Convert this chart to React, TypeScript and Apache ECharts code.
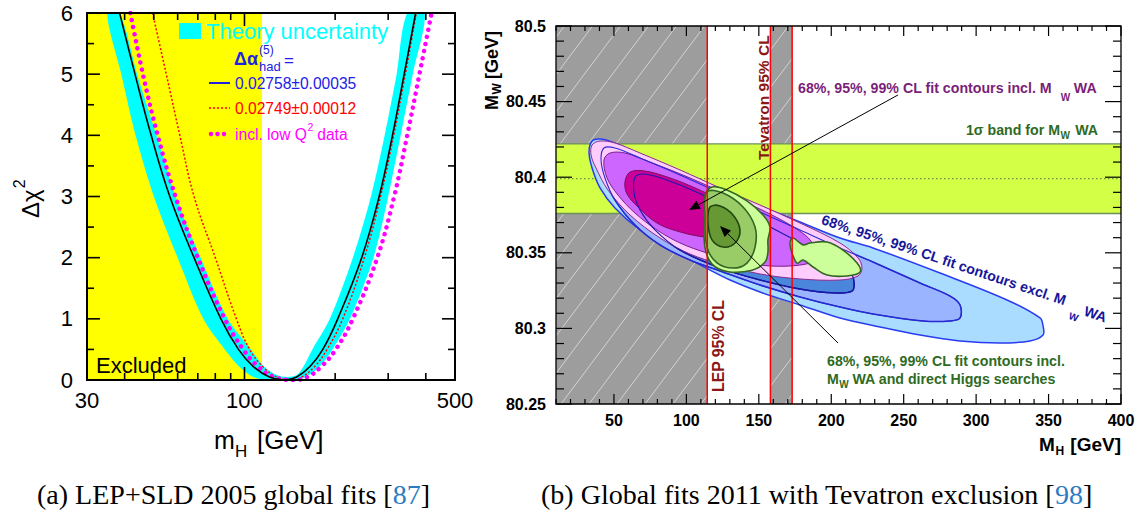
import React, { useEffect, useRef } from "react";
import * as echarts from "echarts";

const SANS = '"Liberation Sans", Arial, Helvetica, sans-serif';
const SERIF = '"Liberation Serif", "Times New Roman", serif';

// ---------------- panel (a): LEP+SLD 2005 ----------------
const axisA = { xMin: 30, xMax: 500, yMin: 0, yMax: 6 };
const excludedMaxA = 114.4;
// [mH, delta chi2]
const fitCentral = [
  [38.5, 6], [43.3, 5], [49, 4], [56.5, 3], [68, 2], [83.5, 1], [95.5, 0.5], [107, 0.22], [121, 0.05],
  [136, 0], [149, 0.05], [165, 0.22], [182, 0.5], [204, 1], [245, 2], [280, 3], [310, 4], [339, 5], [370, 6],
];
const fitRed = [
  [49.5, 6], [55, 5], [61, 4], [68, 3], [80, 2], [94, 1], [104, 0.5], [116, 0.2], [128, 0.05],
  [142, 0], [155, 0.05], [171, 0.22], [188, 0.5], [212, 1], [250, 2], [283, 3], [313, 4], [342, 5], [372, 6],
];
const fitLowQ2 = [
  [41.8, 6], [46, 5], [51.5, 4], [59, 3], [70, 2], [86, 1], [99, 0.5], [111, 0.22], [125, 0.05],
  [147, 0], [162, 0.05], [180, 0.22], [201, 0.5], [229, 1], [276, 2], [314, 3], [347, 4], [381, 5], [418, 6],
];
const bandLower = [
  [35, 6], [39, 5], [43.5, 4], [50, 3], [60, 2], [73, 1], [86, 0.5], [97, 0.2], [108, 0.04], [120, 0],
  [146, 0], [158, 0.04], [176, 0.2], [196, 0.5], [224, 1], [268, 2], [300, 3], [330, 4], [362, 5], [397, 6],
];
const bandUpper = [
  [38.5, 6], [44, 5], [51, 4], [59, 3], [71.5, 2], [88, 1], [105, 0.5], [116, 0.22], [128, 0.08], [138, 0.05],
  [149, 0.08], [157, 0.22], [168, 0.5], [192, 1], [229, 2], [263, 3], [292, 4], [320, 5], [347, 6],
];
const xLabelsA = [30, 100, 500];
const xMajorA = [100];
const xMinorA = [40, 50, 60, 70, 80, 90, 200, 300, 400];

// ---------------- panel (b): Global fits 2011 ----------------
const axisB = { xMin: 10, xMax: 400, yMin: 80.25, yMax: 80.5 };
const lepLimit = 114.4;
const tevatronExcl = [158, 173];
const mwWA = 80.399;
const mwWAErr = 0.023;
// [MH, MW] contour outlines
const blue99 = [
  [34.9, 80.4239], [40.4, 80.4253], [48.7, 80.4233], [61.1, 80.418], [81.8, 80.4094], [102.5, 80.4008],
  [116.3, 80.3948], [137.0, 80.3862], [157.7, 80.3783], [178.4, 80.3704], [206.0, 80.3598], [228.8, 80.3532],
  [275.1, 80.3366], [321.3, 80.3188], [344.1, 80.3069], [346.2, 80.3016], [346.2, 80.2956], [337.2, 80.2917],
  [316.5, 80.2903], [288.9, 80.2917], [261.3, 80.2956], [233.7, 80.3009], [206.0, 80.3069], [178.4, 80.3155],
  [150.8, 80.3241], [130.1, 80.332], [113.5, 80.34], [90.8, 80.3518], [68.0, 80.3651], [50.7, 80.3796],
  [40.4, 80.3929], [34.9, 80.4061], [32.8, 80.4167],
];
const blue95 = [
  [43.1, 80.4193], [50.7, 80.4193], [68.0, 80.4127], [95.6, 80.4015], [123.2, 80.3895], [150.8, 80.377],
  [178.4, 80.3651], [206.0, 80.3532], [228.8, 80.3439], [261.3, 80.33], [282.0, 80.3214], [288.9, 80.3155],
  [288.9, 80.3069], [282.0, 80.3049], [263.3, 80.3049], [228.8, 80.3095], [206.0, 80.3141], [178.4, 80.3208],
  [150.8, 80.3287], [123.2, 80.338], [102.5, 80.3452], [81.8, 80.3552], [64.5, 80.3684], [50.7, 80.3849],
  [43.8, 80.3995], [41.1, 80.4114],
];
const blue68 = [
  [65.2, 80.4008], [74.9, 80.4015], [95.6, 80.3948], [123.2, 80.3829], [150.8, 80.3704], [178.4, 80.3565],
  [199.1, 80.3452], [212.9, 80.3373], [215.7, 80.3307], [214.3, 80.3247], [202.6, 80.3234], [178.4, 80.326],
  [150.8, 80.332], [123.2, 80.34], [95.6, 80.3518], [78.3, 80.3651], [68.0, 80.3783], [63.8, 80.3902],
];
const purple99 = [
  [34.9, 80.4213], [40.4, 80.4239], [50.7, 80.4226], [68.0, 80.416], [95.6, 80.4048], [123.2, 80.3929],
  [150.8, 80.3816], [178.4, 80.3697], [206.0, 80.3565], [218.5, 80.3466], [221.2, 80.3399], [218.5, 80.3347],
  [206.0, 80.332], [178.4, 80.3327], [150.8, 80.336], [123.2, 80.3426], [102.5, 80.3492], [81.8, 80.3598],
  [61.1, 80.375], [45.9, 80.3915], [37.6, 80.4061], [34.2, 80.4147],
];
const purple95 = [
  [43.1, 80.4114], [47.3, 80.416], [57.6, 80.416], [74.9, 80.41], [102.5, 80.3995], [130.1, 80.3876],
  [157.7, 80.3757], [181.9, 80.3618], [189.5, 80.3518], [188.8, 80.3452], [178.4, 80.3419], [157.7, 80.3413],
  [137.0, 80.3439], [114.2, 80.3499], [95.6, 80.3565], [79.7, 80.3651], [64.5, 80.3763], [52.8, 80.3882],
  [45.2, 80.3995],
];
const purple68 = [
  [57.6, 80.3968], [61.1, 80.4034], [71.4, 80.4041], [88.7, 80.3995], [106.0, 80.3929], [123.2, 80.3849],
  [137.0, 80.3763], [142.5, 80.3684], [141.2, 80.3624], [130.1, 80.3598], [112.9, 80.3604], [95.6, 80.3638],
  [79.7, 80.3697], [66.6, 80.3803], [59.0, 80.3889],
];
const green99Main = [
  [112.9, 80.3882], [117.7, 80.3935], [128.0, 80.3915], [141.8, 80.3843], [152.9, 80.375], [157.7, 80.3671],
  [156.3, 80.3585], [156.3, 80.3505], [154.3, 80.3439], [145.3, 80.3385], [128.7, 80.3375], [117.7, 80.3425],
  [112.9, 80.3532], [112.2, 80.3717],
];
const green99Side = [
  [171.5, 80.3565], [173.6, 80.3598], [180.5, 80.3552], [185.3, 80.3565], [197.1, 80.3571], [208.1, 80.3518],
  [217.8, 80.3432], [219.9, 80.3373], [210.9, 80.3347], [197.1, 80.3353], [187.4, 80.3406], [180.5, 80.3452],
  [176.4, 80.3432], [172.9, 80.3499],
];
const green95 = [
  [114.2, 80.3902], [125.3, 80.3895], [139.1, 80.3803], [147.4, 80.3671], [147.4, 80.3538], [141.8, 80.3432],
  [132.2, 80.3399], [121.1, 80.3433], [114.2, 80.3538], [112.9, 80.3737],
];
const green68 = [
  [116.3, 80.3803], [123.2, 80.381], [132.2, 80.375], [137.0, 80.3651], [133.6, 80.3565], [125.3, 80.3538],
  [117.7, 80.3585], [114.9, 80.3697],
];
const arrowInclMW = [[246.1, 80.4544], [101.8, 80.3783]];
const arrowInclHiggs = [[204.7, 80.2903], [123.2, 80.3677]];

// ---------------- helpers ----------------
let mctx: CanvasRenderingContext2D | null = null;
function tw(text: string, size: number, bold = false, family = SANS) {
  if (!mctx) mctx = document.createElement("canvas").getContext("2d");
  if (!mctx) return text.length * size * 0.55;
  mctx.font = `${bold ? "bold " : ""}${size}px ${family}`;
  return mctx.measureText(text).width;
}
function T(text: string, x: number, y: number, size: number, fill: string, o: any = {}) {
  return {
    type: "text", x, y, rotation: o.rot || 0, z: 100,
    style: {
      text, fill, fontSize: size, fontFamily: o.family || SANS, fontWeight: o.bold ? "bold" : "normal",
      align: o.align || "left", verticalAlign: o.va || "middle", ...(o.rich ? { rich: o.rich } : {}),
    },
  };
}
function ln(x1: number, y1: number, x2: number, y2: number, stroke: string, lw: number, dash?: number[]) {
  return { type: "line", shape: { x1, y1, x2, y2 }, style: { stroke, lineWidth: lw, ...(dash ? { lineDash: dash } : {}) } };
}
function arrowEls(api: any, pts: number[][]) {
  const a = api.coord(pts[0]);
  const b = api.coord(pts[1]);
  const dx = b[0] - a[0], dy = b[1] - a[1];
  const L = Math.hypot(dx, dy);
  const ux = dx / L, uy = dy / L;
  const hl = 11, hw = 4.5;
  const bx = b[0] - ux * hl, by = b[1] - uy * hl;
  return [
    ln(a[0], a[1], bx, by, "#000", 1),
    { type: "polygon", shape: { points: [[b[0], b[1]], [bx - uy * hw, by + ux * hw], [bx + uy * hw, by - ux * hw]] }, style: { fill: "#000" } },
  ];
}

function buildOption() {
  const BLUE = "#2121e6";
  const PURPLE = "#7a1f7a";
  const DGREEN = "#2f6b1f";
  const DBLUE = "#16169a";
  const DRED = "#8c1515";

  // ---------- graphic texts ----------
  const g: any[] = [];
  // panel (a) legend
  g.push({ type: "rect", z: 100, shape: { x: 179, y: 23, width: 22, height: 16 }, style: { fill: "#00ffff" } });
  g.push(T("Theory uncertainty", 206, 31, 22, "#00ffff"));
  g.push(T("\u0394\u03b1", 234, 59, 18, BLUE, { bold: true }));
  const wda = tw("\u0394\u03b1", 18, true);
  g.push(T("(5)", 234 + wda + 1, 50, 12, BLUE));
  g.push(T("had", 234 + wda + 1, 66, 13, BLUE));
  g.push(T("=", 284, 60, 17, BLUE));
  g.push({ type: "line", z: 100, shape: { x1: 209, y1: 83, x2: 230, y2: 83 }, style: { stroke: BLUE, lineWidth: 2 } });
  g.push(T("0.02758\u00b10.00035", 235, 83, 15.6, BLUE));
  g.push({ type: "line", z: 100, shape: { x1: 209, y1: 108, x2: 230, y2: 108 }, style: { stroke: "#ff0000", lineWidth: 1.5, lineDash: [2, 2] } });
  g.push(T("0.02749\u00b10.00012", 235, 108.5, 15.6, "#ff0000"));
  [211, 217.5, 224].forEach((cx) => g.push({ type: "circle", z: 100, shape: { cx, cy: 134, r: 2.2 }, style: { fill: "#ff00ff" } }));
  const q1 = "incl. low Q";
  const wq = tw(q1, 15.6);
  g.push(T(q1, 235, 134, 15.6, "#ff00ff"));
  g.push(T("2", 235 + wq + 0.5, 127, 10.5, "#ff00ff"));
  g.push(T(" data", 235 + wq + 6, 134, 15.6, "#ff00ff"));
  g.push(T("Excluded", 96, 365, 22, "#000"));
  // panel (a) axis titles
  g.push(T("m", 214, 440, 25, "#000"));
  g.push(T("H", 235, 451, 17, "#000"));
  g.push(T("[GeV]", 257, 440, 26, "#000"));
  const wdc = tw("\u0394\u03c7", 24);
  g.push({
    type: "group", x: 30, y: 218, rotation: Math.PI / 2, z: 100,
    children: [T("\u0394\u03c7", 0, 0, 24, "#000"), T("2", wdc + 1, -11, 16, "#000")],
  });

  // panel (b) texts
  const fs = 14.2;
  const p1 = "68%, 95%, 99% CL fit contours incl. M";
  const wp1 = tw(p1, fs, true);
  g.push(T(p1, 798, 88, fs, PURPLE, { bold: true }));
  g.push(T("W", 798 + wp1 + 9, 97, 10, PURPLE, { bold: true }));
  g.push(T("WA", 798 + wp1 + 22, 88, fs, PURPLE, { bold: true }));

  g.push(T("WA", 1098, 130, fs, DGREEN, { bold: true, align: "right" }));
  g.push(T("W", 1070, 135, 10, DGREEN, { bold: true, align: "right" }));
  g.push(T("1\u03c3 band for M", 1060, 130, fs, DGREEN, { bold: true, align: "right" }));

  g.push(T("68%, 95%, 99% CL fit contours incl.", 827, 361, fs, DGREEN, { bold: true }));
  const wm = tw("M", fs, true);
  g.push(T("M", 827, 379, fs, DGREEN, { bold: true }));
  g.push(T("W", 827 + wm + 0.5, 384, 10, DGREEN, { bold: true }));
  g.push(T("WA and direct Higgs searches", 852.5, 379, fs, DGREEN, { bold: true }));

  const b1 = "68%, 95%, 99% CL fit contours excl. M";
  const wb1 = tw(b1, fs, true);
  g.push({
    type: "group", x: 822, y: 219, rotation: (-18.5 * Math.PI) / 180, z: 100,
    children: [
      T(b1, 0, 0, fs, DBLUE, { bold: true }),
      T("W", wb1 + 8, 13, 10, DBLUE, { bold: true }),
      T("WA", wb1 + 21, 3.5, fs, DBLUE, { bold: true }),
    ],
  });
  g.push(T("LEP 95% CL", 718, 392, 15.8, DRED, { bold: true, rot: Math.PI / 2 }));
  g.push(T("Tevatron 95% CL", 763, 160, 15.5, DRED, { bold: true, rot: Math.PI / 2 }));

  const wM18 = tw("M", 18, true);
  g.push({
    type: "group", x: 492, y: 110, rotation: Math.PI / 2, z: 100,
    children: [
      T("M", 0, 0, 18, "#000", { bold: true }),
      T("W", wM18 + 0.5, 5, 12, "#000", { bold: true }),
      T("[GeV]", wM18 + 16, 0, 18, "#000", { bold: true }),
    ],
  });
  g.push(T("M", 1039, 444, 19, "#000", { bold: true }));
  g.push(T("H", 1055.5, 451, 12, "#000", { bold: true }));
  g.push(T("[GeV]", 1121, 444, 19, "#000", { bold: true, align: "right" }));

  // captions
  g.push({
    type: "text", x: 233.5, y: 494, z: 100,
    style: {
      text: "(a) LEP+SLD 2005 global fits [{c|87}]", fontSize: 28, fontFamily: SERIF, fill: "#000",
      align: "center", verticalAlign: "middle", rich: { c: { fill: "#2b7bbf", fontSize: 28, fontFamily: SERIF } },
    },
  });
  g.push({
    type: "text", x: 816.5, y: 494, z: 100,
    style: {
      text: "(b) Global fits 2011 with Tevatron exclusion [{c|98}]", fontSize: 28, fontFamily: SERIF, fill: "#000",
      align: "center", verticalAlign: "middle", rich: { c: { fill: "#2b7bbf", fontSize: 28, fontFamily: SERIF } },
    },
  });

  // ---------- tick lists ----------
  const yMajorA: number[] = [];
  const yMinorA: number[] = [];
  for (let i = 0; i <= 12; i++) (i % 2 === 0 ? yMajorA : yMinorA).push(i / 2);
  const xTicksB: number[] = [];
  for (let v = 10; v <= 400; v += 10) xTicksB.push(v);
  const yTicksB: number[] = [];
  for (let i = 0; i <= 25; i++) yTicksB.push(i);

  const series: any[] = [
    // ----- panel a -----
    {
      type: "custom", xAxisIndex: 0, yAxisIndex: 0, z: 1, clip: true, silent: true, data: [[100, 3]],
      renderItem: (_p: any, api: any) => {
        const a = api.coord([axisA.xMin, axisA.yMax]);
        const b = api.coord([excludedMaxA, axisA.yMin]);
        return { type: "rect", shape: { x: a[0], y: a[1], width: b[0] - a[0], height: b[1] - a[1] }, style: { fill: "#ffff00" } };
      },
    },
    {
      type: "custom", xAxisIndex: 0, yAxisIndex: 0, z: 2, clip: true, silent: true, data: [[100, 3]],
      renderItem: (_p: any, api: any) => {
        const pts = [...bandLower.map((q) => api.coord(q)), ...bandUpper.slice().reverse().map((q) => api.coord(q))];
        return { type: "polygon", shape: { points: pts, smooth: 0.3 }, style: { fill: "#00ffff" } };
      },
    },
    {
      type: "line", xAxisIndex: 0, yAxisIndex: 0, z: 3, data: fitRed, smooth: 0.4, symbol: "none", silent: true,
      lineStyle: { color: "#ff0000", width: 1.5, type: [2, 2] },
    },
    {
      type: "line", xAxisIndex: 0, yAxisIndex: 0, z: 4, data: fitLowQ2, smooth: 0.4, symbol: "none", silent: true,
      lineStyle: { color: "#ff00ff", width: 4.5, type: [0.01, 7.2], cap: "round" },
    },
    {
      type: "line", xAxisIndex: 0, yAxisIndex: 0, z: 5, data: fitCentral, smooth: 0.4, symbol: "none", silent: true,
      lineStyle: { color: "#000", width: 1.6 },
    },
    {
      type: "custom", xAxisIndex: 0, yAxisIndex: 0, z: 10, clip: false, silent: true, data: [[100, 3]],
      renderItem: (_p: any, api: any) => {
        const ch: any[] = [];
        const [xL, yB] = api.coord([axisA.xMin, axisA.yMin]);
        const [xR, yT] = api.coord([axisA.xMax, axisA.yMax]);
        const k = "#000";
        xMajorA.forEach((v) => { const x = api.coord([v, 1])[0]; ch.push(ln(x, yB, x, yB - 13, k, 1.6), ln(x, yT, x, yT + 13, k, 1.6)); });
        xMinorA.forEach((v) => { const x = api.coord([v, 1])[0]; ch.push(ln(x, yB, x, yB - 7, k, 1.6), ln(x, yT, x, yT + 7, k, 1.6)); });
        yMajorA.forEach((v) => { const y = api.coord([100, v])[1]; ch.push(ln(xL, y, xL + 13, y, k, 1.6), ln(xR, y, xR - 13, y, k, 1.6)); });
        yMinorA.forEach((v) => { const y = api.coord([100, v])[1]; ch.push(ln(xL, y, xL + 7, y, k, 1.6), ln(xR, y, xR - 7, y, k, 1.6)); });
        ch.push({ type: "rect", shape: { x: xL, y: yT, width: xR - xL, height: yB - yT }, style: { fill: "none", stroke: k, lineWidth: 2 } });
        xLabelsA.forEach((v) => {
          const x = api.coord([v, 1])[0];
          ch.push({ type: "text", x, y: yB + 9, style: { text: String(v), fontSize: 22, fontFamily: SANS, fill: k, align: "center", verticalAlign: "top" } });
        });
        return { type: "group", children: ch };
      },
    },
    // ----- panel b -----
    {
      type: "custom", xAxisIndex: 1, yAxisIndex: 1, z: 1, clip: true, silent: true, data: [[200, 80.35]],
      renderItem: (_p: any, api: any) => {
        const ch: any[] = [];
        const [xl, bot] = api.coord([axisB.xMin, axisB.yMin]);
        const [xr, top] = api.coord([axisB.xMax, axisB.yMax]);
        const regions = [[axisB.xMin, lepLimit], tevatronExcl];
        const k = 0.75, sp = 28;
        regions.forEach(([a, b]) => {
          const x0 = api.coord([a, axisB.yMin])[0];
          const x1 = api.coord([b, axisB.yMin])[0];
          ch.push({ type: "rect", shape: { x: x0, y: top, width: x1 - x0, height: bot - top }, style: { fill: "#9d9d9d" } });
          const cMin = x0 + k * top, cMax = x1 + k * bot;
          for (let c = Math.ceil((cMin - xl) / sp) * sp + xl; c <= cMax; c += sp) {
            const ya = Math.max(top, (c - x1) / k);
            const yb = Math.min(bot, (c - x0) / k);
            if (yb - ya > 0.5) ch.push(ln(c - k * ya, ya, c - k * yb, yb, "#d2d2d2", 1));
          }
        });
        const yTop = api.coord([axisB.xMin, mwWA + mwWAErr])[1];
        const yBot = api.coord([axisB.xMin, mwWA - mwWAErr])[1];
        const yC = api.coord([axisB.xMin, mwWA])[1];
        ch.push({ type: "rect", shape: { x: xl, y: yTop, width: xr - xl, height: yBot - yTop }, style: { fill: "#d4ff47" } });
        ch.push(ln(xl, yTop, xr, yTop, "#6d8f58", 1.3), ln(xl, yBot, xr, yBot, "#6d8f58", 1.3));
        ch.push(ln(xl, yC, xr, yC, "#4d7a3a", 1, [1.5, 2.5]));
        return { type: "group", children: ch };
      },
    },
    {
      type: "custom", xAxisIndex: 1, yAxisIndex: 1, z: 3, clip: true, silent: true, data: [[200, 80.35]],
      renderItem: (_p: any, api: any) => {
        const poly = (pts: number[][], fill: string, stroke: string, lw: number) => ({
          type: "polygon", shape: { points: pts.map((q) => api.coord(q)), smooth: 0.35 },
          style: { fill, stroke, lineWidth: lw },
        });
        const ch = [
          poly(blue99, "#a9dcff", "#2a3cf0", 1.5),
          poly(blue95, "#9ab4ff", "#1f2bd0", 1.5),
          poly(blue68, "#4a87dc", "#14149a", 1.5),
          poly(purple99, "#ffcdfd", "#8a2a8a", 1),
          poly(purple95, "#cc66ff", "#7a1f8a", 1),
          poly(purple68, "#cc0099", "#7a1060", 1),
          poly(blue95, "none", "#2a2ad0", 1.1),
          poly(blue68, "none", "#1a1aa8", 1.1),
          poly(green99Main, "#ccff99", "#336622", 1.6),
          poly(green99Side, "#ccff99", "#336622", 1.6),
          poly(green95, "#99cc66", "#336622", 1.6),
          poly(green68, "#669933", "#224411", 1.6),
        ];
        return { type: "group", children: ch };
      },
    },
    {
      type: "custom", xAxisIndex: 1, yAxisIndex: 1, z: 5, clip: true, silent: true, data: [[200, 80.35]],
      renderItem: (_p: any, api: any) => {
        const ch: any[] = [];
        const top = api.coord([axisB.xMin, axisB.yMax])[1];
        const bot = api.coord([axisB.xMin, axisB.yMin])[1];
        [lepLimit, ...tevatronExcl].forEach((v) => { const x = api.coord([v, axisB.yMin])[0]; ch.push(ln(x, top, x, bot, "#ff0000", 1.5)); });
        ch.push(...arrowEls(api, arrowInclMW), ...arrowEls(api, arrowInclHiggs));
        return { type: "group", children: ch };
      },
    },
    {
      type: "custom", xAxisIndex: 1, yAxisIndex: 1, z: 10, clip: false, silent: true, data: [[200, 80.35]],
      renderItem: (_p: any, api: any) => {
        const ch: any[] = [];
        const [xL, yB] = api.coord([axisB.xMin, axisB.yMin]);
        const [xR, yT] = api.coord([axisB.xMax, axisB.yMax]);
        const k = "#000";
        xTicksB.forEach((v) => {
          const x = api.coord([v, axisB.yMin])[0];
          const len = v % 50 === 0 ? 10 : 5;
          ch.push(ln(x, yB, x, yB - len, k, 1.2), ln(x, yT, x, yT + len, k, 1.2));
        });
        yTicksB.forEach((i) => {
          const y = api.coord([axisB.xMin, axisB.yMin + i * 0.01])[1];
          const len = i % 5 === 0 ? 16 : 8;
          ch.push(ln(xL, y, xL + len, y, k, 1.2), ln(xR, y, xR - len, y, k, 1.2));
        });
        ch.push({ type: "rect", shape: { x: xL, y: yT, width: xR - xL, height: yB - yT }, style: { fill: "none", stroke: k, lineWidth: 1.3 } });
        return { type: "group", children: ch };
      },
    },
  ];

  const hidden = { axisLine: { show: false }, axisTick: { show: false }, splitLine: { show: false } };
  return {
    animation: false,
    backgroundColor: "#fff",
    grid: [
      { left: 87, top: 13, width: 368, height: 367 },
      { left: 556, top: 26, width: 565, height: 378 },
    ],
    xAxis: [
      { type: "log", logBase: 10, gridIndex: 0, min: axisA.xMin, max: axisA.xMax, ...hidden, axisLabel: { show: false } },
      {
        type: "value", gridIndex: 1, min: axisB.xMin, max: axisB.xMax, interval: 10, ...hidden,
        axisLabel: {
          formatter: (v: number) => (Math.round(v) % 50 === 0 ? String(Math.round(v)) : ""),
          fontSize: 16, fontWeight: "bold", color: "#000", fontFamily: SANS, margin: 8,
        },
      },
    ],
    yAxis: [
      {
        type: "value", gridIndex: 0, min: axisA.yMin, max: axisA.yMax, interval: 1, ...hidden,
        axisLabel: { fontSize: 22, color: "#000", fontFamily: SANS, margin: 14 },
      },
      {
        type: "value", gridIndex: 1, min: axisB.yMin, max: axisB.yMax, interval: 0.05, ...hidden,
        axisLabel: {
          formatter: (v: number) => String(parseFloat(v.toFixed(2))),
          fontSize: 16, fontWeight: "bold", color: "#000", fontFamily: SANS, margin: 10,
        },
      },
    ],
    graphic: { elements: g },
    series,
  };
}

export default function App() {
  const ref = useRef<HTMLDivElement>(null);
  useEffect(() => {
    if (!ref.current) return;
    const chart = echarts.init(ref.current, null, { renderer: "svg" });
    chart.setOption(buildOption() as any);
    return () => chart.dispose();
  }, []);
  return (
    <div
      ref={ref}
      style={{ position: "fixed", left: 0, top: 0, width: 1140, height: 516, background: "#fff" }}
    />
  );
}
